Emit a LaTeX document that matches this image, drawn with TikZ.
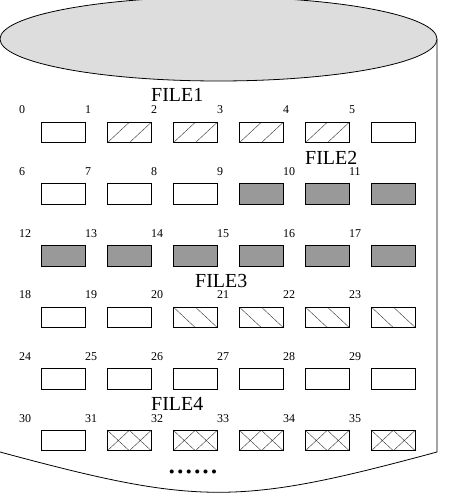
\documentclass[tikz,border=0pt]{standalone}
\usepackage{fontspec}
\setmainfont{Liberation Serif}
\usetikzlibrary{positioning}
\definecolor{lidgray}{RGB}{221,221,221}
\definecolor{usedgray}{RGB}{153,153,153}
\tikzset{
    block/.style={rectangle,draw=black,line width=0.8pt,minimum width=44bp,minimum height=20.5bp,inner sep=0pt},
    hatch/.style={draw=black!75,line width=0.45pt},
    blockfree/.style={block},
    blockfull/.style={block,fill=usedgray},
    blockfwd/.style={block,path picture={\draw[hatch] (path picture bounding box.south west) -- (path picture bounding box.north) (path picture bounding box.south) -- (path picture bounding box.north east);}},
    blockbwd/.style={block,path picture={\draw[hatch] (path picture bounding box.north west) -- (path picture bounding box.south) (path picture bounding box.north) -- (path picture bounding box.south east);}},
    blockcross/.style={block,path picture={\draw[hatch] (path picture bounding box.south west) -- (path picture bounding box.north) (path picture bounding box.south) -- (path picture bounding box.north east) (path picture bounding box.north west) -- (path picture bounding box.south) (path picture bounding box.north) -- (path picture bounding box.south east);}},
    blocknum/.style={anchor=base west,inner sep=0pt,font=\fontsize{12}{14}\selectfont},
    filename/.style={anchor=base west,inner sep=0pt,font=\fontsize{20}{24}\selectfont},
}

\begin{document}
\begin{tikzpicture}[x=1bp,y=-1bp]
\useasboundingbox (0,0) rectangle (453,496);
% disk body
\coordinate (topright) at (437,39);
\coordinate (bottomright) at (437,452);
\coordinate (bottomleft) at (0,452);
\draw[line width=0.8pt] (topright) -- (bottomright) .. controls (238,505.7) and (199,505.7) .. (bottomleft);
\draw[line width=0.8pt,fill=lidgray] (218.5,39) ellipse [x radius=218.5, y radius=42];
% blocks
\foreach \row/\kinds in {0/{blockfree,blockfwd,blockfwd,blockfwd,blockfwd,blockfree},
                         1/{blockfree,blockfree,blockfree,blockfull,blockfull,blockfull},
                         2/{blockfull,blockfull,blockfull,blockfull,blockfull,blockfull},
                         3/{blockfree,blockfree,blockbwd,blockbwd,blockbwd,blockbwd},
                         4/{blockfree,blockfree,blockfree,blockfree,blockfree,blockfree},
                         5/{blockfree,blockcross,blockcross,blockcross,blockcross,blockcross}} {
  \foreach \kind [count=\col from 0] in \kinds {
    \pgfmathtruncatemacro{\n}{6*\row+\col}
    \node[\kind] (b\n) at (63.3+66*\col, 132.5+61.6*\row) {};
    \node[blocknum] (n\n) at (19+66*\col, 114+61.6*\row) {\n};
  }
}
% file names
\node[filename] (file1) at (151,102) {FILE1};
\node[filename] (file2) at (305,165) {FILE2};
\node[filename] (file3) at (195,287.3) {FILE3};
\node[filename] (file4) at (151,410) {FILE4};
\node[font=\fontsize{34}{40}\selectfont,inner sep=0pt,anchor=base] (more) at (193,473) {......};
\end{tikzpicture}
\end{document}
